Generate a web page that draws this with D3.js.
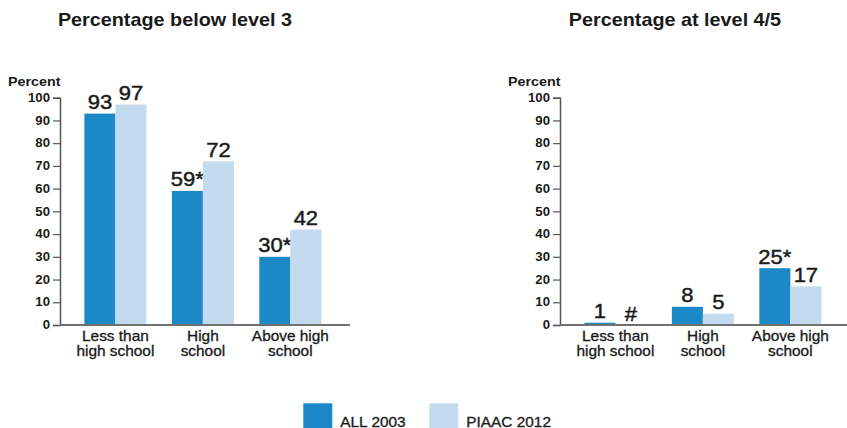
<!DOCTYPE html>
<html>
<head>
<meta charset="utf-8">
<script src="https://cdn.jsdelivr.net/npm/d3@7"></script>
<style>
  html, body { margin: 0; padding: 0; background: #fff; }
  svg { display: block; }
  text { font-family: "Liberation Sans", Arial, Helvetica, sans-serif; fill: #1a1a1a; }
</style>
</head>
<body>
<svg id="chart" width="847" height="428"></svg>
<script>
// Education categories (two-line labels)
const categories = ["Less than high school", "High school", "Above high school"];
const categoryLines = [["Less than", "high school"], ["High", "school"], ["Above high", "school"]];
const seriesNames = ["ALL 2003", "PIAAC 2012"];

// Panel 1: percentage below level 3
const belowL3_all2003 = [93, 59, 30];
const belowL3_piaac2012 = [97, 72, 42];
const belowL3_labels2003 = ["93", "59*", "30*"];
const belowL3_labels2012 = ["97", "72", "42"];

// Panel 2: percentage at level 4/5 (# rounds to zero)
const level45_all2003 = [1, 8, 25];
const level45_piaac2012 = [0, 5, 17];
const level45_labels2003 = ["1", "8", "25*"];
const level45_labels2012 = ["#", "5", "17"];

const yTicks = [0, 10, 20, 30, 40, 50, 60, 70, 80, 90, 100];
const colors = ["#1b88c8", "#c4daef"];

const svg = d3.select("#chart");
const SX = 1.1; // slight horizontal widening of the type

function label(g, x, y, str, opts) {
  const t = g.append("text")
    .attr("transform", `translate(${x},${y}) scale(${SX},1)`)
    .attr("text-anchor", opts.anchor || "middle")
    .style("font-size", opts.size + "px")
    .style("font-weight", opts.weight || "normal")
    .text(str);
  if (opts.heavy) {
    t.style("stroke", "#1a1a1a").style("stroke-width", opts.heavy).style("paint-order", "stroke");
  }
  return t;
}

const y = d3.scaleLinear().domain([0, 100]).range([325, 97.7]);

function panel(offsetX, title, v2003, v2012, l2003, l2012) {
  const g = svg.append("g").attr("transform", `translate(${offsetX},0)`);
  const width = 290;

  const x = d3.scaleBand().domain(categories).range([0, width])
    .paddingInner(0.291).paddingOuter(0.303).align(0.46);
  const xs = d3.scaleBand().domain(seriesNames).range([0, x.bandwidth()]);

  // title
  label(g, 115, 26, title, { size: 18, weight: "bold" });
  // y-axis caption
  label(g, -52, 86, "Percent", { size: 13, weight: "bold", anchor: "start" });

  // bars
  const rows = categories.map((c, i) => ({
    c, vals: [v2003[i], v2012[i]], labs: [l2003[i], l2012[i]]
  }));
  const grp = g.selectAll("g.cat").data(rows).join("g")
    .attr("class", "cat")
    .attr("transform", d => `translate(${x(d.c)},0)`);

  grp.each(function (d) {
    const gg = d3.select(this);
    seriesNames.forEach((s, k) => {
      const v = d.vals[k];
      gg.append("rect")
        .attr("x", xs(s))
        .attr("y", y(v))
        .attr("width", xs.bandwidth())
        .attr("height", y(0) - y(v))
        .attr("fill", colors[k]);
      label(gg, xs(s) + xs.bandwidth() / 2, y(v) - 4.5, d.labs[k], { size: 20, heavy: 0.45 });
    });
  });

  // y axis
  const yAxis = d3.axisLeft(y).tickValues(yTicks).tickSize(7).tickPadding(3);
  const ya = g.append("g").call(yAxis);
  ya.select(".domain").attr("stroke", "#555").attr("stroke-width", 1.5);
  ya.selectAll(".tick line").attr("stroke", "#555").attr("stroke-width", 1.2);
  ya.selectAll(".tick text").remove();
  yTicks.forEach(t => {
    label(ya, -10, y(t) + 4.2, String(t), { size: 12, weight: "bold", anchor: "end" });
  });

  // x axis baseline
  g.append("line")
    .attr("x1", 0).attr("x2", width)
    .attr("y1", y(0)).attr("y2", y(0))
    .attr("stroke", "#707070").attr("stroke-width", 2);

  // category labels
  categories.forEach((c, i) => {
    const cx = x(c) + x.bandwidth() / 2;
    categoryLines[i].forEach((ln, j) => {
      label(g, cx, 341 + j * 14.5, ln, { size: 14, heavy: 0.3 });
    });
  });
}

panel(60, "Percentage below level 3", belowL3_all2003, belowL3_piaac2012, belowL3_labels2003, belowL3_labels2012);
panel(560, "Percentage at level 4/5", level45_all2003, level45_piaac2012, level45_labels2003, level45_labels2012);

// legend
const legend = svg.append("g");
const legendX = [303.3, 429.3];
seriesNames.forEach((s, k) => {
  legend.append("rect")
    .attr("x", legendX[k]).attr("y", 403.3)
    .attr("width", 29).attr("height", 26)
    .attr("fill", colors[k]);
  label(legend, legendX[k] + 37, 426.5, s, { size: 14, anchor: "start", heavy: 0.3 });
});
</script>
</body>
</html>
